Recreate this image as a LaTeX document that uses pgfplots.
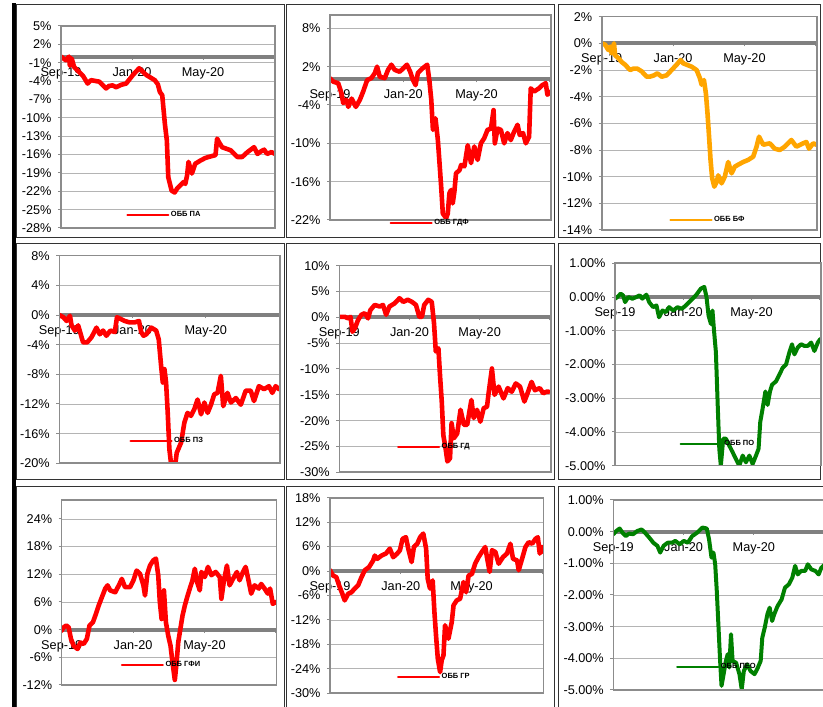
\documentclass[border=0pt]{standalone}
\usepackage{fontspec}
\setmainfont{Liberation Sans}
\usepackage{pgfplots}
\pgfplotsset{compat=1.18}
\definecolor{gridc}{HTML}{B4B4B4}
\definecolor{framec}{HTML}{8C8C8C}
\definecolor{zeroc}{HTML}{808080}
\definecolor{sred}{HTML}{FF0000}
\definecolor{sorange}{HTML}{FFA500}
\definecolor{sgreen}{HTML}{008000}
\pgfplotsset{
  panel/.style={
    scale only axis,
    axis y line*=left,
    axis x line*=middle,
    hide obscured x ticks=false,
    xmin=0, xmax=12.05,
    xtick={0,4,8,12},
    xticklabels={Sep-19,Jan-20,May-20,{}},
    tick align=outside,
    major tick length=3pt,
    ymajorgrids,
    grid style={line width=0.8pt, draw=gridc},
    x axis line style={line width=4pt, draw=zeroc},
    y axis line style={line width=1.6pt, draw=framec},
    tick style={line width=1pt, draw=framec},
    /pgf/number format/assume math mode=true,
    tick label style={font=\fontsize{12.7}{14}\selectfont},
    yticklabel style={xshift=-3pt},
    xticklabel style={yshift=-4pt},
    yticklabel={\pgfmathprintnumber{\tick}\%},
    legend style={draw=none, fill=none, anchor=west, inner sep=0pt,
      font=\bfseries\fontsize{7.5}{8}\selectfont, nodes={inner sep=1.5pt}},
    legend image code/.code={\draw[##1, line width=2.2pt] (0pt,0pt) -- (41pt,0pt);},
    after end axis/.code={\draw[line width=1.6pt, framec] (rel axis cs:0,0) rectangle (rel axis cs:1,1);},
  },
  series/.style={no marks, line width=4.6pt, line join=round, line cap=round, draw=#1},
  pct2/.style={yticklabel={\pgfmathprintnumber[fixed,fixed zerofill,precision=2]{\tick}\%}},
}
\begin{document}
\begin{tikzpicture}
\path[use as bounding box] (0pt,0pt) rectangle (823pt,707pt);
% panel boxes
\fill[black] (11.5pt,0pt) rectangle (16pt,704pt);
\draw[line width=1pt, black!80] (16pt,702pt) rectangle (284pt,469pt);
\draw[line width=1pt, black!80] (286.5pt,702pt) rectangle (554pt,469pt);
\draw[line width=1pt, black!80] (558pt,702pt) rectangle (820.5pt,469pt);
\draw[line width=1pt, black!80] (16pt,463pt) rectangle (284pt,227pt);
\draw[line width=1pt, black!80] (286.5pt,463pt) rectangle (554pt,227pt);
\draw[line width=1pt, black!80] (558pt,463pt) rectangle (820.5pt,227pt);
\draw[line width=1pt, black!80] (16pt,220pt) rectangle (284pt,-5pt);
\draw[line width=1pt, black!80] (286.5pt,220pt) rectangle (554pt,-5pt);
\draw[line width=1pt, black!80] (558pt,220pt) rectangle (830pt,-5pt);

% 1: OBB PA
\begin{axis}[panel, at={(61pt,479pt)}, anchor=south west, width=214pt, height=202pt,
  ymin=-28, ymax=5, ytick={-28,-25,-22,-19,-16,-13,-10,-7,-4,-1,2,5},
  legend style={at={(0.304,0.064)}}]
\addplot[series=sred] coordinates {(0,0) (0.27,-0.6) (0.45,0) (0.5,-1.5) (0.6,-0.3) (0.74,-1.7) (1.02,-2.5) (1.25,-3.2) (1.5,-4.4) (1.69,-3.85) (2.16,-4.1) (2.54,-5.2) (2.7,-4.8) (2.9,-4.7) (3.1,-5) (3.4,-4.6) (3.67,-4.4) (4.05,-3.0) (4.4,-1.9) (4.8,-3.0) (5.28,-3.85) (5.45,-4.5) (5.57,-5.8) (5.7,-6.3) (5.85,-11) (5.96,-13.7) (6.04,-19.7) (6.23,-21.9) (6.4,-22.2) (6.55,-21.5) (6.7,-21.1) (6.9,-20.5) (7.0,-20.8) (7.1,-19.4) (7.18,-17.2) (7.37,-19.1) (7.56,-17.5) (7.84,-17.0) (8.1,-16.6) (8.3,-16.4) (8.7,-16.1) (8.79,-13.4) (8.9,-14) (9.07,-14.8) (9.55,-15.3) (9.93,-16.4) (10.2,-16.4) (10.5,-15.6) (10.87,-14.8) (11.06,-15.9) (11.25,-15.5) (11.44,-15.2) (11.6,-15.9) (11.85,-15.6) (12.05,-15.9)};
\legend{ОББ ПА}
\end{axis}

% 2: OBB GDF
\begin{axis}[panel, at={(330pt,487pt)}, anchor=south west, width=220.7pt, height=205pt,
  ymin=-22, ymax=10.08, ytick={-22,-16,-10,-4,2,8},
  legend style={at={(0.269,-0.013)}}]
\addplot[series=sred] coordinates {(0,0.17) (0.18,-0.35) (0.45,-0.6) (0.63,-2.2) (0.72,-3.7) (0.9,-3.2) (1.0,-4.3) (1.18,-3.0) (1.41,-4.3) (1.63,-3.2) (1.81,-1.9) (2.03,-0.1) (2.26,0.2) (2.45,1.0) (2.57,2.0) (2.72,0.4) (2.99,0.2) (3.17,1.5) (3.35,2.3) (3.53,1.5) (3.8,1.2) (3.99,1.7) (4.2,2.3) (4.38,1.2) (4.53,-0.1) (4.67,-0.9) (4.8,1.0) (5.04,1.7) (5.31,2.3) (5.43,-0.3) (5.53,-3.2) (5.62,-7.9) (5.76,-6.1) (5.89,-9.5) (5.98,-13.1) (6.07,-16.8) (6.16,-21.0) (6.34,-21.7) (6.43,-21) (6.52,-17.8) (6.61,-17.3) (6.7,-19.4) (6.79,-17.6) (6.88,-14.7) (7.07,-14.2) (7.16,-13.4) (7.34,-13.6) (7.52,-10.3) (7.7,-13.1) (7.88,-10.5) (8.06,-12.6) (8.24,-10.0) (8.42,-9.2) (8.6,-7.9) (8.79,-7.7) (8.93,-4.8) (9.0,-10) (9.15,-7.7) (9.33,-7.9) (9.51,-10) (9.69,-8.4) (9.87,-9.5) (10.05,-8.2) (10.24,-7.1) (10.36,-8.7) (10.54,-8.4) (10.69,-10) (10.87,-9) (10.96,-1.4) (11.14,-1.9) (11.41,-1.4) (11.59,-0.9) (11.78,-0.6) (11.87,-2.4) (12.05,-1.9)};
\legend{ОББ ГДФ}
\end{axis}

% 3: OBB BF
\begin{axis}[panel, at={(601.7pt,477pt)}, anchor=south west, width=215pt, height=213.3pt,
  ymin=-14, ymax=2, ytick={-14,-12,-10,-8,-6,-4,-2,0,2},
  legend style={at={(0.314,0.047)}}]
\addplot[series=sorange] coordinates {(0,0) (0.19,-0.1) (0.37,-0.5) (0.47,-0.25) (0.56,-0.75) (0.69,0) (0.75,-0.9) (0.93,-1.1) (1.12,-1.4) (1.31,-1.6) (1.59,-2.0) (1.77,-1.9) (2.0,-1.9) (2.24,-2.1) (2.52,-2.5) (2.7,-2.5) (2.93,-2.4) (3.12,-2.25) (3.36,-2.5) (3.64,-2.4) (3.92,-2.0) (4.2,-1.6) (4.42,-1.25) (4.57,-1.5) (4.76,-1.6) (5.04,-1.75) (5.32,-2.0) (5.5,-2.6) (5.6,-3.1) (5.73,-2.75) (5.84,-3.75) (5.93,-5.25) (6.03,-7.25) (6.1,-8.75) (6.19,-10.1) (6.31,-10.75) (6.44,-10.4) (6.53,-9.9) (6.72,-10.5) (6.9,-10) (7.09,-8.9) (7.28,-9.75) (7.46,-9.25) (7.65,-9.1) (7.93,-8.9) (8.2,-8.75) (8.49,-8.5) (8.68,-7.75) (8.82,-7.0) (9.05,-7.6) (9.42,-7.5) (9.7,-7.9) (9.98,-8.0) (10.26,-7.75) (10.63,-7.25) (10.91,-7.75) (11.29,-7.5) (11.47,-7.4) (11.62,-7.9) (11.85,-7.5) (12.03,-7.6)};
\legend{ОББ БФ}
\end{axis}

% 4: OBB PZ
\begin{axis}[panel, at={(59.3pt,243.7pt)}, anchor=south west, width=220.7pt, height=207.6pt,
  ymin=-20, ymax=8, ytick={-20,-16,-12,-8,-4,0,4,8},
  legend style={at={(0.317,0.107)}}]
\addplot[series=sred] coordinates {(0,0) (0.22,-0.3) (0.4,-0.8) (0.58,-0.1) (0.67,-1.4) (0.85,-2.1) (1.03,-1.4) (1.3,-3.7) (1.52,-3.7) (1.76,-3.0) (2.03,-1.7) (2.21,-2.6) (2.39,-2.1) (2.57,-2.8) (2.79,-2.1) (3.03,-2.3) (3.15,-0.3) (3.33,-0.5) (3.57,-0.8) (3.84,-1.0) (4.11,-1.0) (4.35,-0.8) (4.47,-2.3) (4.6,-2.8) (4.75,-2.6) (5.02,-1.7) (5.29,-2.1) (5.43,-3.3) (5.56,-6.9) (5.65,-9.1) (5.74,-7.3) (5.83,-9.1) (5.92,-13.2) (6.01,-18.1) (6.1,-20) (6.34,-20) (6.41,-18.6) (6.65,-17.2) (6.83,-14.5) (7.0,-13.2) (7.19,-13.6) (7.37,-12.7) (7.55,-11.4) (7.74,-13.4) (7.92,-11.8) (8.1,-13.2) (8.28,-12.1) (8.46,-10.7) (8.64,-10.5) (8.82,-8.2) (8.95,-12.3) (9.18,-10.5) (9.37,-11.8) (9.64,-11.2) (9.91,-12.1) (10.18,-10.2) (10.45,-10.2) (10.63,-11.6) (10.9,-9.6) (11.18,-10.0) (11.45,-9.6) (11.63,-10.5) (11.81,-9.6) (12.0,-10.0)};
\legend{ОББ ПЗ}
\end{axis}

% 5: OBB GD
\begin{axis}[panel, at={(339.3pt,234.7pt)}, anchor=south west, width=211.4pt, height=206.6pt,
  ymin=-30, ymax=10, ytick={-30,-25,-20,-15,-10,-5,0,5,10},
  legend style={at={(0.272,0.122)}}]
\addplot[series=sred] coordinates {(0,0.1) (0.32,0.1) (0.51,-0.2) (0.64,0.1) (0.75,-2.8) (0.89,-2.1) (1.07,-0.5) (1.26,0.5) (1.45,0.8) (1.64,-0.2) (1.77,1.4) (2.02,2.4) (2.3,2.1) (2.49,2.4) (2.67,0.5) (2.86,2.1) (3.15,2.7) (3.43,3.7) (3.65,3.0) (3.9,3.4) (4.14,3.0) (4.37,2.4) (4.56,0.1) (4.71,0.1) (4.84,2.4) (5.07,3.4) (5.27,3.0) (5.4,-1.2) (5.5,-6.6) (5.65,-6) (5.74,-11.2) (5.84,-16.3) (5.93,-22.8) (6.06,-25.4) (6.16,-27.9) (6.31,-27.3) (6.4,-20.5) (6.53,-23.4) (6.72,-22.5) (6.91,-17.9) (7.1,-20.8) (7.29,-20.8) (7.53,-16) (7.66,-19.5) (7.85,-17.9) (8.04,-20.2) (8.23,-17.6) (8.42,-17.3) (8.51,-14.7) (8.7,-9.9) (8.85,-15.0) (9.08,-13.4) (9.36,-15.7) (9.6,-13.7) (9.83,-14.4) (10.06,-12.8) (10.3,-13.4) (10.55,-16.3) (10.73,-14.7) (10.96,-12.5) (11.15,-14.1) (11.43,-13.7) (11.62,-14.7) (11.81,-14.4) (11.94,-14.4)};
\legend{ОББ ГД}
\end{axis}

% 6: OBB PO
\begin{axis}[panel, pct2, at={(615pt,241.3pt)}, anchor=south west, width=205.7pt, height=202.4pt,
  ymin=-5, ymax=1, ytick={-5,-4,-3,-2,-1,0,1},
  legend style={at={(0.313,0.107)}}]
\addplot[series=sgreen, line width=4pt] coordinates {(0,-0.05) (0.14,0) (0.33,0.1) (0.47,0.05) (0.59,-0.15) (0.78,0) (1.02,-0.05) (1.25,0) (1.45,0.05) (1.6,-0.05) (1.84,0.07) (2.0,-0.15) (2.23,-0.3) (2.43,-0.25) (2.58,-0.6) (2.78,-0.4) (2.97,-0.45) (3.17,-0.3) (3.41,-0.4) (3.66,-0.3) (3.91,-0.35) (4.15,-0.25) (4.44,-0.1) (4.74,0.05) (5.03,0.25) (5.23,0.3) (5.36,0) (5.48,-0.55) (5.62,-0.8) (5.71,-0.4) (5.81,-1.05) (5.91,-1.63) (6.01,-3.1) (6.11,-4.5) (6.2,-5.0) (6.34,-4.2) (6.5,-4.2) (6.69,-4.4) (6.89,-4.6) (7.08,-4.8) (7.28,-5.0) (7.48,-4.7) (7.67,-4.9) (7.87,-4.7) (8.06,-4.95) (8.26,-4.7) (8.41,-4.5) (8.51,-3.7) (8.65,-3.3) (8.81,-2.8) (8.94,-3.2) (9.08,-2.8) (9.2,-2.6) (9.43,-2.5) (9.63,-2.3) (9.82,-2.1) (10.02,-2.0) (10.22,-1.63) (10.37,-1.4) (10.51,-1.7) (10.7,-1.5) (10.9,-1.4) (11.1,-1.45) (11.29,-1.45) (11.49,-1.35) (11.68,-1.6) (11.88,-1.35) (12.02,-1.25)};
\legend{ОББ ПО}
\end{axis}

% 7: OBB GFI
\begin{axis}[panel, at={(61.7pt,22pt)}, anchor=south west, width=215pt, height=185pt,
  ymin=-12, ymax=28.1, ytick={-12,-6,0,6,12,18,24},
  legend style={at={(0.274,0.108)}}]
\addplot[series=sred] coordinates {(0,-0.2) (0.11,0.5) (0.26,0.9) (0.39,0.5) (0.52,-2) (0.67,-3.5) (0.89,-4.2) (1.04,-2.8) (1.23,-3.1) (1.41,-2) (1.56,0.9) (1.75,1.6) (1.88,3.0) (2.07,5.2) (2.25,7.0) (2.44,8.9) (2.57,9.6) (2.72,8.5) (3.0,8.1) (3.24,9.9) (3.37,11.0) (3.55,9.2) (3.83,9.2) (4.02,10.7) (4.2,12.8) (4.39,12.1) (4.58,9.6) (4.67,7.4) (4.8,12.1) (4.95,13.9) (5.13,15.0) (5.28,15.4) (5.41,11.8) (5.5,6.0) (5.6,2.3) (5.73,8.5) (5.84,1.6) (5.97,-1.3) (6.1,-3.5) (6.21,-7.1) (6.34,-10.9) (6.44,-7.1) (6.53,-2.8) (6.62,-0.6) (6.77,3.0) (6.9,5.2) (7.03,7.0) (7.18,8.9) (7.33,10.7) (7.46,13.2) (7.59,10.3) (7.74,8.5) (7.83,12.5) (8.02,11.4) (8.2,13.6) (8.39,11.8) (8.63,12.5) (8.86,11.4) (8.95,6.7) (9.08,10.3) (9.26,13.9) (9.41,9.6) (9.6,11.0) (9.82,12.5) (9.97,10.7) (10.16,12.5) (10.31,13.6) (10.49,10.3) (10.62,7.8) (10.81,9.6) (11.05,8.9) (11.18,9.9) (11.37,8.9) (11.55,7.8) (11.68,8.9) (11.83,5.6) (12.02,6.0)};
\legend{ОББ ГФИ}
\end{axis}

% 8: OBB GR
\begin{axis}[panel, at={(330pt,13.7pt)}, anchor=south west, width=213.3pt, height=195.6pt,
  ymin=-30, ymax=18, ytick={-30,-24,-18,-12,-6,0,6,12,18},
  legend style={at={(0.313,0.085)}}]
\addplot[series=sred] coordinates {(0,0.2) (0.17,-1.1) (0.36,-1.5) (0.51,-3.5) (0.7,-5.6) (0.83,-7.2) (1.02,-5.6) (1.21,-5.2) (1.4,-4.3) (1.59,-3.5) (1.78,-1.5) (1.97,0.2) (2.21,1.0) (2.44,2.6) (2.53,3.8) (2.67,3.0) (2.91,3.8) (3.16,4.3) (3.38,5.5) (3.57,3.4) (3.8,4.3) (3.95,5.1) (4.1,7.9) (4.29,8.3) (4.42,5.5) (4.61,2.2) (4.74,5.9) (4.93,6.7) (5.09,8.3) (5.27,9.2) (5.43,5.5) (5.52,-1.9) (5.65,-4.3) (5.8,-2.3) (5.9,-10.1) (5.99,-15.8) (6.09,-21.5) (6.22,-24.8) (6.31,-21.9) (6.41,-20.7) (6.5,-13.3) (6.6,-15.0) (6.69,-16.6) (6.88,-12.5) (6.98,-8.4) (7.16,-7.2) (7.35,-6.8) (7.54,-2.7) (7.69,-5.2) (7.83,-1.1) (8.02,-0.7) (8.2,1.8) (8.39,3.4) (8.58,4.7) (8.77,5.9) (8.9,2.6) (9.02,-0.2) (9.15,5.1) (9.34,4.7) (9.53,1.8) (9.77,3.4) (10.0,4.3) (10.19,6.7) (10.34,3.0) (10.57,2.6) (10.66,0.2) (10.85,3.0) (11.04,5.9) (11.23,7.1) (11.42,6.7) (11.61,7.9) (11.74,8.3) (11.85,4.3) (11.98,5.9) (12.08,4.7)};
\legend{ОББ ГР}
\end{axis}

% 9: OBB PEO
\begin{axis}[panel, pct2, at={(613.3pt,17pt)}, anchor=south west, width=211.7pt, height=190pt,
  ymin=-5, ymax=1, ytick={-5,-4,-3,-2,-1,0,1},
  legend style={at={(0.296,0.123)}}]
\addplot[series=sgreen, line width=4pt] coordinates {(0,-0.08) (0.17,0.02) (0.36,0.1) (0.52,-0.03) (0.71,-0.14) (0.9,-0.06) (1.13,-0.08) (1.36,0.02) (1.61,0.07) (1.8,-0.03) (2.05,-0.19) (2.28,-0.35) (2.51,-0.45) (2.67,-0.66) (2.86,-0.45) (3.09,-0.35) (3.34,-0.35) (3.53,-0.29) (3.78,-0.4) (4.01,-0.29) (4.24,-0.35) (4.49,-0.14) (4.78,-0.03) (5.07,0.13) (5.32,0.1) (5.45,-0.24) (5.59,-0.82) (5.7,-0.66) (5.8,-1.03) (5.89,-1.87) (5.99,-3.03) (6.08,-4.08) (6.16,-4.87) (6.28,-4.5) (6.41,-4.08) (6.51,-3.87) (6.6,-4.29) (6.7,-3.24) (6.79,-4.08) (6.99,-4.14) (7.18,-4.5) (7.31,-4.98) (7.43,-4.4) (7.62,-4.19) (7.81,-4.4) (8.04,-4.5) (8.23,-4.29) (8.39,-4.08) (8.48,-3.35) (8.62,-3.03) (8.77,-2.61) (8.9,-2.4) (9.04,-2.82) (9.16,-2.61) (9.35,-2.35) (9.58,-2.14) (9.77,-1.77) (10.0,-1.66) (10.19,-1.45) (10.35,-1.08) (10.5,-1.35) (10.69,-1.24) (10.92,-1.24) (11.07,-1.03) (11.27,-1.19) (11.5,-1.24) (11.69,-1.35) (11.84,-1.14) (12.05,-1.03)};
\legend{ОББ ПЕО}
\end{axis}
\end{tikzpicture}
\end{document}
